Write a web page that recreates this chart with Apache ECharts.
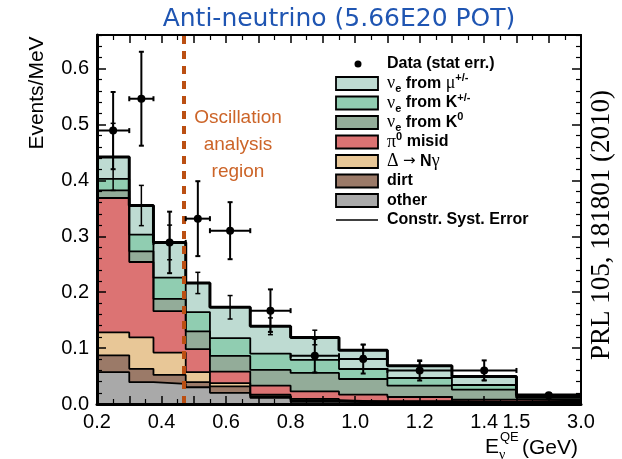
<!DOCTYPE html>
<html>
<head>
<meta charset="utf-8">
<script src="https://cdn.jsdelivr.net/npm/echarts@6/dist/echarts.min.js"></script>
<style>
  html, body { margin: 0; padding: 0; background: #fff; }
  #chart { width: 622px; height: 459px; }
</style>
</head>
<body>
<div id="chart"></div>
<script>
// Reconstructed energy bin edges (GeV)
const binEdges = [0.2, 0.3, 0.375, 0.475, 0.55, 0.675, 0.8, 0.95, 1.1, 1.3, 1.5, 3.0];

// Predicted background components per bin (events/MeV), bottom of the stack first
const otherBkg = [0.057, 0.039, 0.036, 0.030, 0.020, 0.011, 0.004, 0.003, 0.003, 0.002, 0.002];
const dirtBkg  = [0.030, 0.024, 0.016, 0.009, 0.0115, 0.003, 0.003, 0.001, 0.001, 0.001, 0.002];
const deltaBkg = [0.041, 0.056, 0.040, 0.018, 0.006, 0.0026, 0.002, 0.001, 0.001, 0.001, 0.002];
const pi0Bkg   = [0.2405, 0.135, 0.074, 0.041, 0.0205, 0.0164, 0.0135, 0.0116, 0.0075, 0.0037, 0.002];
const k0Bkg    = [0.0135, 0.019, 0.022, 0.032, 0.028, 0.028, 0.033, 0.0281, 0.0202, 0.0179, 0.003];
const kpmBkg   = [0.0205, 0.030, 0.038, 0.0345, 0.032, 0.029, 0.0235, 0.0179, 0.0138, 0.0084, 0.0025];
const mupmBkg  = [0.0395, 0.052, 0.063, 0.052, 0.055, 0.049, 0.040, 0.0334, 0.022, 0.0154, 0.0025];

// Constrained systematic error on the total prediction
const systErr = [0.060, 0.036, 0.031, 0.019, 0.021, 0.015, 0.013, 0.010, 0.008, 0.007, 0.002];

// Observed data and statistical errors
const dataValues  = [0.489, 0.546, 0.289, 0.3315, 0.310, 0.167, 0.0864, 0.0805, 0.060, 0.060, 0.0155];
const dataStatErr = [0.069, 0.084, 0.055, 0.067, 0.051, 0.038, 0.030, 0.026, 0.018, 0.018, 0.004];

// Axis tick labels
const xTickGeV  = [0.2, 0.4, 0.6, 0.8, 1.0, 1.2, 1.4, 1.5, 3.0];
const xTickText = ['0.2', '0.4', '0.6', '0.8', '1.0', '1.2', '1.4', '1.5', '3.0'];
const yTickText = ['0.0', '0.1', '0.2', '0.3', '0.4', '0.5', '0.6'];

// Oscillation analysis threshold (GeV)
const oscCut = 0.475;

// Legend labels (rich text markup), top to bottom
const legendData = '{b|Data (stat err.)}';
const legendLayers = [
  '{g|ν}{sub|e}{b| from }{g|μ}{sup|+/-}',
  '{g|ν}{sub|e}{b| from K}{sup|+/-}',
  '{g|ν}{sub|e}{b| from K}{sup|0}',
  '{g|π}{sup|0}{b| misid}',
  '{g|Δ }{a|→}{b| N}{g|γ}',
  '{b|dirt}',
  '{b|other}'
];
const legendSyst = '{b|Constr. Syst. Error}';

// ---------------------------------------------------------------
const layerValues = [otherBkg, dirtBkg, deltaBkg, pi0Bkg, k0Bkg, kpmBkg, mupmBkg];
const layerColors = ['#a9a9a9', '#9b7a68', '#e8c797', '#dc7373', '#93ac99', '#90cdb1', '#bedbd2'];

// The axis is linear up to 1.5 GeV; the last bin 1.5-3.0 GeV is compressed.
function toAxis(e) {
  return e <= 1.5 ? e : 1.5 + (e - 1.5) * (0.2 / 1.5);
}

const nBins = binEdges.length - 1;
function stepPoints(vals) {
  return binEdges.map((e, i) => [toAxis(e), vals[Math.min(i, nBins - 1)]]);
}

// cumulative heights of the stack
const cumulative = [];
layerValues.forEach((vals, k) => {
  cumulative.push(vals.map((v, i) => v + (k > 0 ? cumulative[k - 1][i] : 0)));
});
const mcTotal = cumulative[cumulative.length - 1];

const series = [];
// filled step histograms, drawn from the full stack down to the lowest component
for (let k = layerValues.length - 1; k >= 0; k--) {
  series.push({
    type: 'line', step: 'end', symbol: 'none', silent: true,
    data: stepPoints(cumulative[k]),
    lineStyle: { color: '#000', width: k === layerValues.length - 1 ? 3 : 1.8 },
    areaStyle: { color: layerColors[k], opacity: 1 },
    z: 2
  });
}

// systematic error bars on the prediction
series.push({
  type: 'custom', z: 4, silent: true,
  data: mcTotal.map((v, i) => [toAxis((binEdges[i] + binEdges[i + 1]) / 2), v, systErr[i]]),
  renderItem: function (params, api) {
    const x = api.value(0), y = api.value(1), e = api.value(2);
    const top = api.coord([x, y + e]);
    const bot = api.coord([x, y - e]);
    const st = { stroke: '#000', lineWidth: 1.5 };
    return {
      type: 'group', children: [
        { type: 'line', shape: { x1: top[0], y1: top[1], x2: bot[0], y2: bot[1] }, style: st },
        { type: 'line', shape: { x1: top[0] - 2.5, y1: top[1], x2: top[0] + 2.5, y2: top[1] }, style: st },
        { type: 'line', shape: { x1: bot[0] - 2.5, y1: bot[1], x2: bot[0] + 2.5, y2: bot[1] }, style: st }
      ]
    };
  },
  markLine: {
    silent: true, symbol: 'none', label: { show: false },
    lineStyle: { color: '#bb4f12', width: 4, type: [8, 7] },
    data: [{ xAxis: toAxis(oscCut) }],
    animation: false
  }
});

// data points with bin-width and statistical error bars
series.push({
  type: 'custom', z: 5, silent: true,
  data: dataValues.map((v, i) => [
    toAxis((binEdges[i] + binEdges[i + 1]) / 2), v,
    toAxis(binEdges[i]), toAxis(binEdges[i + 1]), dataStatErr[i]
  ]),
  renderItem: function (params, api) {
    const x = api.value(0), y = api.value(1);
    const x0 = api.value(2), x1 = api.value(3), e = api.value(4);
    const c = api.coord([x, y]);
    const l = api.coord([x0, y]);
    const r = api.coord([x1, y]);
    const t = api.coord([x, y + e]);
    const b = api.coord([x, y - e]);
    const st = { stroke: '#000', lineWidth: 2 };
    return {
      type: 'group', children: [
        { type: 'line', shape: { x1: l[0], y1: l[1], x2: r[0], y2: r[1] }, style: st },
        { type: 'line', shape: { x1: l[0], y1: l[1] - 2.5, x2: l[0], y2: l[1] + 2.5 }, style: st },
        { type: 'line', shape: { x1: r[0], y1: r[1] - 2.5, x2: r[0], y2: r[1] + 2.5 }, style: st },
        { type: 'line', shape: { x1: t[0], y1: t[1], x2: b[0], y2: b[1] }, style: st },
        { type: 'line', shape: { x1: t[0] - 2.5, y1: t[1], x2: t[0] + 2.5, y2: t[1] }, style: st },
        { type: 'line', shape: { x1: b[0] - 2.5, y1: b[1], x2: b[0] + 2.5, y2: b[1] }, style: st },
        { type: 'circle', shape: { cx: c[0], cy: c[1], r: 4 }, style: { fill: '#000' } }
      ]
    };
  }
});

// ---------------------------------------------------------------
// Legend, titles and annotations
const sansFont = '"Liberation Sans", Arial, sans-serif';
const serifFont = '"Liberation Serif", "Times New Roman", serif';
const titleFont = '"DejaVu Sans", sans-serif';
const legendRich = {
  b: { fontFamily: sansFont, fontWeight: 'bold', fontSize: 16, fill: '#000', lineHeight: 22 },
  g: { fontFamily: serifFont, fontSize: 18, fill: '#000', lineHeight: 22 },
  a: { fontFamily: titleFont, fontSize: 15, fill: '#000', lineHeight: 22 },
  sub: { fontFamily: sansFont, fontWeight: 'bold', fontSize: 11, fill: '#000', lineHeight: 12, verticalAlign: 'bottom' },
  sup: { fontFamily: sansFont, fontWeight: 'bold', fontSize: 11, fill: '#000', lineHeight: 12, verticalAlign: 'top' }
};
const legendX = 336, legendTextX = 387, legendTop = 64, legendStep = 19.5;
const graphics = [];
graphics.push({ type: 'circle', z: 100, shape: { cx: 358, cy: legendTop, r: 3.5 }, style: { fill: '#000' } });
graphics.push({ type: 'text', z: 100, x: legendTextX, y: legendTop,
  style: { text: legendData, rich: legendRich, verticalAlign: 'middle', align: 'left' } });
legendLayers.forEach((txt, j) => {
  const k = layerValues.length - 1 - j;
  const yc = legendTop + legendStep * (j + 1);
  graphics.push({ type: 'rect', z: 100, shape: { x: legendX, y: yc - 6.5, width: 42, height: 13 },
    style: { fill: layerColors[k], stroke: '#000', lineWidth: 1.8 } });
  graphics.push({ type: 'text', z: 100, x: legendTextX, y: yc,
    style: { text: txt, rich: legendRich, verticalAlign: 'middle', align: 'left' } });
});
const systY = legendTop + legendStep * (legendLayers.length + 1);
graphics.push({ type: 'line', z: 100, shape: { x1: legendX, y1: systY, x2: legendX + 42, y2: systY },
  style: { stroke: '#000', lineWidth: 1.5 } });
graphics.push({ type: 'text', z: 100, x: legendTextX, y: systY,
  style: { text: legendSyst, rich: legendRich, verticalAlign: 'middle', align: 'left' } });

// chart title
graphics.push({ type: 'text', z: 100, x: 339, y: 19,
  style: { text: 'Anti-neutrino (5.66E20 POT)', font: '25px ' + titleFont, fill: '#1f55b2',
    align: 'center', verticalAlign: 'middle' } });
// oscillation region note
['Oscillation', 'analysis', 'region'].forEach((s, i) => {
  graphics.push({ type: 'text', z: 100, x: 238, y: 118 + 27 * i,
    style: { text: s, font: '19px ' + sansFont, fill: '#cc6428', align: 'center', verticalAlign: 'middle' } });
});
// y axis title
graphics.push({ type: 'text', z: 100, x: 37, y: 93, rotation: Math.PI / 2,
  style: { text: 'Events/MeV', font: '21px ' + sansFont, fill: '#000', align: 'center', verticalAlign: 'middle' } });
// x axis title
graphics.push({ type: 'text', z: 100, x: 485, y: 447,
  style: { text: 'E', font: '21px ' + sansFont, fill: '#000', align: 'left', verticalAlign: 'middle' } });
graphics.push({ type: 'text', z: 100, x: 500, y: 437,
  style: { text: 'QE', font: '13px ' + sansFont, fill: '#000', align: 'left', verticalAlign: 'middle' } });
graphics.push({ type: 'text', z: 100, x: 499, y: 455,
  style: { text: 'ν', font: '14px ' + serifFont, fill: '#000', align: 'left', verticalAlign: 'middle' } });
graphics.push({ type: 'text', z: 100, x: 522, y: 448,
  style: { text: '(GeV)', font: '21px ' + sansFont, fill: '#000', align: 'left', verticalAlign: 'middle' } });
// reference
graphics.push({ type: 'text', z: 100, x: 602, y: 225, rotation: Math.PI / 2,
  style: { text: 'PRL 105, 181801 (2010)', font: '27px ' + serifFont, fill: '#000', align: 'center', verticalAlign: 'middle' } });

// ---------------------------------------------------------------
const axisFontSize = 20;
function xLabel(v) {
  const i = xTickGeV.findIndex(t => Math.abs(toAxis(t) - v) < 1e-6);
  return i >= 0 ? xTickText[i] : '';
}
function yLabel(v) {
  const i = Math.round(v * 10);
  return Math.abs(v * 10 - i) < 1e-6 && i < yTickText.length ? yTickText[i] : '';
}

const xBase = {
  type: 'value', min: toAxis(binEdges[0]), max: toAxis(binEdges[nBins]), interval: 0.1,
  splitLine: { show: false },
  axisTick: { show: true, inside: true, length: 8, lineStyle: { color: '#000', width: 1.5 } },
  minorTick: { show: true, splitNumber: 2, length: 5, lineStyle: { color: '#000', width: 1.2 } }
};
const yBase = {
  type: 'value', min: 0, max: 0.66, interval: 0.1,
  splitLine: { show: false },
  axisTick: { show: true, inside: true, length: 9, lineStyle: { color: '#000', width: 1.5 } },
  minorTick: { show: true, splitNumber: 5, length: 5, lineStyle: { color: '#000', width: 1.2 } }
};

const option = {
  animation: false,
  backgroundColor: '#fff',
  grid: { left: 97, right: 41, top: 35, bottom: 55, containLabel: false },
  xAxis: [
    Object.assign({}, xBase, {
      position: 'bottom', z: 10,
      axisLine: { show: true, onZero: false, lineStyle: { color: '#000', width: 3 } },
      axisLabel: { formatter: xLabel, fontSize: axisFontSize, color: '#000', fontFamily: sansFont, margin: 8 }
    }),
    Object.assign({}, xBase, {
      position: 'top', z: 10,
      axisLine: { show: true, onZero: false, lineStyle: { color: '#000', width: 2 } },
      axisLabel: { show: false }
    })
  ],
  yAxis: [
    Object.assign({}, yBase, {
      position: 'left', z: 10,
      axisLine: { show: true, onZero: false, lineStyle: { color: '#000', width: 3 } },
      axisLabel: { formatter: yLabel, fontSize: axisFontSize, color: '#000', fontFamily: sansFont, margin: 8, showMaxLabel: false }
    }),
    Object.assign({}, yBase, {
      position: 'right', z: 10,
      axisLine: { show: true, onZero: false, lineStyle: { color: '#000', width: 2 } },
      axisLabel: { show: false }
    })
  ],
  series: series,
  graphic: { elements: graphics }
};

const chart = echarts.init(document.getElementById('chart'));
chart.setOption(option);
</script>
</body>
</html>
